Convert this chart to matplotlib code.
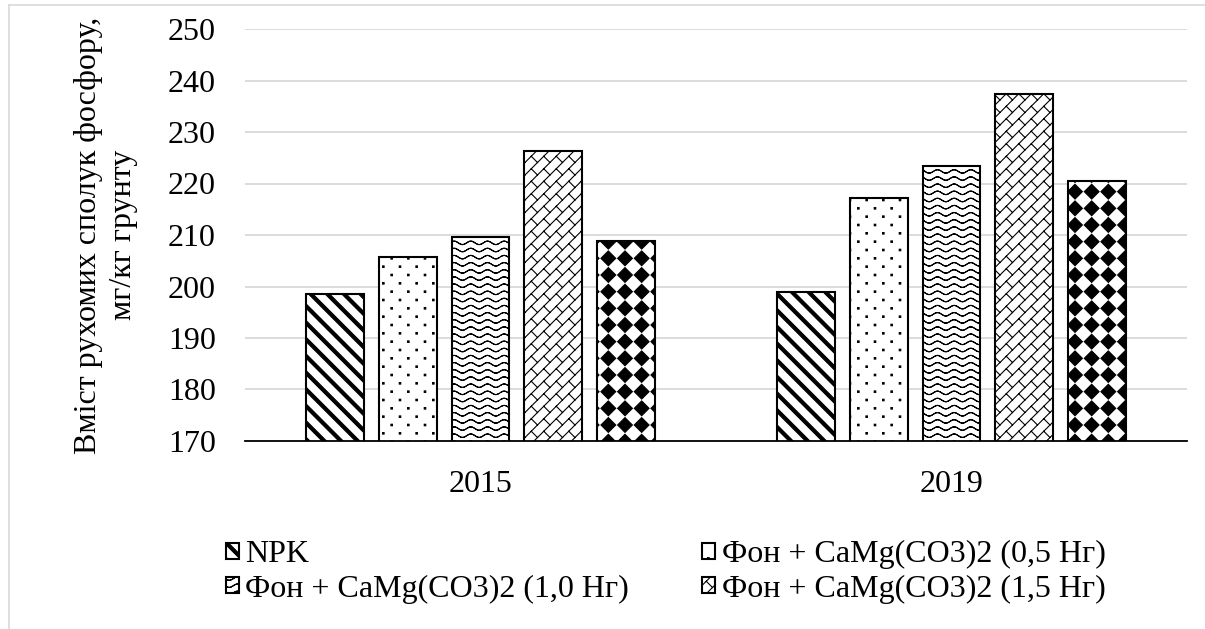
import numpy as np
import matplotlib
matplotlib.use('Agg')
import matplotlib.pyplot as plt
import matplotlib.hatch as mhatch
from matplotlib.path import Path
from matplotlib.lines import Line2D

# ---------------- data ----------------
years = ['2015', '2019']
series_names = ['NPK',
                'Фон + CaMg(CO3)2 (0,5 Нг)',
                'Фон + CaMg(CO3)2 (1,0 Нг)',
                'Фон + CaMg(CO3)2 (1,5 Нг)',
                'Фон + CaMg(CO3)2 (2,0 Нг)']
npk = [198.5, 198.9]
dolomite_05 = [205.8, 217.1]
dolomite_10 = [209.7, 223.4]
dolomite_15 = [226.4, 237.4]
dolomite_20 = [208.9, 220.5]
yticks = [170, 180, 190, 200, 210, 220, 230, 240, 250]
ylabel = 'Вміст рухомих сполук фосфору,\nмг/кг грунту'
legend_series = [0, 1, 2, 3]   # the reference legend lists four entries

# ---------------- custom hatch patterns ----------------
mhatch._validate_hatch_pattern = lambda h: None


def _segs(segs):
    v, c = [], []
    for (x0, y0), (x1, y1) in segs:
        v += [(x0, y0), (x1, y1)]
        c += [Path.MOVETO, Path.LINETO]
    return np.array(v, float), np.array(c, Path.code_type)


def _polys(polys):
    v, c = [], []
    for p in polys:
        v += list(p) + [p[0]]
        c += [Path.MOVETO] + [Path.LINETO] * (len(p) - 1) + [Path.CLOSEPOLY]
    return np.array(v, float), np.array(c, Path.code_type)


class _Custom(mhatch.HatchPatternBase):
    char = '\0'

    def __init__(self, hatch, density):
        if self.char in hatch:
            self._v, self._c = self.build()
            self.num_vertices = len(self._v)
        else:
            self.num_vertices = 0

    def set_vertices_and_codes(self, vertices, codes):
        vertices[:] = self._v
        codes[:] = self._c


class Stripes(_Custom):
    char = 'a'

    def build(self):
        w = 0.022
        polys = []
        for k in range(-1, 14):
            c = k / 6
            x0, x1 = -0.1, 1.1
            polys.append([(x0, -x0 + c - w), (x1, -x1 + c - w),
                          (x1, -x1 + c + w), (x0, -x0 + c + w)])
        return _polys(polys)


class Dots(_Custom):
    char = 'b'

    def build(self):
        s = 0.0075
        polys = []
        for j in range(-1, 14):
            y = j / 12
            for i in range(-1, 8):
                x = i / 6 + (j % 2) / 12
                polys.append([(x - s, y - s), (x + s, y - s), (x + s, y + s), (x - s, y + s)])
        return _polys(polys)


class Waves(_Custom):
    char = 'c'

    def build(self):
        A = 0.017
        xs = np.linspace(0, 1, 97)
        segs = []
        for j in range(-1, 16):
            y0 = j / 14
            ys = y0 + A * np.sin(2 * np.pi * 6 * xs)
            for i in range(len(xs) - 1):
                segs.append(((xs[i], ys[i]), (xs[i + 1], ys[i + 1])))
        return _segs(segs)


class Bricks(_Custom):
    char = 'd'

    def build(self):
        n = 8
        segs = []
        for k in range(-10, 11):
            c = k / n
            segs.append(((-0.3, -0.3 + c), (1.3, 1.3 + c)))
            for j in range(-4, 14):
                t = j / n
                p0 = (t, t + c)
                p1 = (t - 1 / (2 * n), t + c + 1 / (2 * n))
                if -0.3 <= p0[0] <= 1.3 and -0.3 <= p0[1] <= 1.3:
                    segs.append((p0, p1))
        return _segs(segs)


class Diamonds(_Custom):
    char = 'e'

    def build(self):
        r = 0.074
        polys = []
        for i in range(-1, 8):
            for j in range(-1, 8):
                cx, cy = i / 6 + 1 / 12, j / 6 + 1 / 12
                polys.append([(cx + r, cy), (cx, cy + r), (cx - r, cy), (cx, cy - r)])
        return _polys(polys)


mhatch._hatch_types.extend([Stripes, Dots, Waves, Bricks, Diamonds])

# ---------------- figure ----------------
plt.rcParams['font.family'] = ['Liberation Serif', 'DejaVu Serif']
plt.rcParams['hatch.linewidth'] = 0.8
plt.rcParams['hatch.color'] = 'black'
FS = 23

W, H = 1205, 629
fig = plt.figure(figsize=(W / 100, H / 100), dpi=100)
ax = fig.add_axes([245 / W, 1 - 441 / H, (1187 - 245) / W, (441 - 29) / H])

values = [npk, dolomite_05, dolomite_10, dolomite_15, dolomite_20]
hatches = ['a', 'b', 'c', 'd', 'e']
x = np.arange(len(years))
bw = 0.123
step = 0.154
handles = []
for i, (vals, h, name) in enumerate(zip(values, hatches, series_names)):
    bars = ax.bar(x + (i - 2) * step, vals, width=bw, bottom=0,
                  facecolor='white', edgecolor='black', linewidth=1.5,
                  hatch=h, label=name, zorder=3)
    handles.append(bars)

ax.set_ylim(170, 250)
ax.set_xlim(-0.5, 1.5)
ax.set_yticks(yticks)
ax.set_xticks(x)
ax.set_xticklabels(years)
ax.yaxis.grid(True, color='#d9d9d9', linewidth=1.3, zorder=0)
ax.set_axisbelow(True)
for s in ['top', 'right', 'left']:
    ax.spines[s].set_visible(False)
ax.spines['bottom'].set_linewidth(1.3)
ax.spines['bottom'].set_zorder(4)
ax.tick_params(axis='y', length=0, pad=21, labelsize=FS)
ax.tick_params(axis='x', length=0, pad=21, labelsize=FS)

ax.set_ylabel(ylabel, fontsize=FS, linespacing=1.3, ha='center', va='center',
              multialignment='center')
ax.yaxis.set_label_coords((106 - 245) / (1187 - 245), 0.5)

# legend: two columns, filled column-first
order = [legend_series[0], legend_series[2], legend_series[1], legend_series[3]]
fig.legend([handles[i] for i in order], [series_names[i] for i in order],
           ncol=2, loc='upper left', bbox_to_anchor=(226 / W, 1 - 540 / H),
           frameon=False, borderpad=0, borderaxespad=0,
           handlelength=0.4, handleheight=0.4, handletextpad=0.2,
           columnspacing=2.3, labelspacing=0.17, fontsize=FS)

# outer chart border (light grey)
fig.add_artist(Line2D([9 / W, 9 / W], [0, 1 - 5 / H], transform=fig.transFigure,
                      color='#d9d9d9', linewidth=1.2))
fig.add_artist(Line2D([9 / W, 1], [1 - 5 / H, 1 - 5 / H], transform=fig.transFigure,
                      color='#d9d9d9', linewidth=1.2))

fig.savefig('out.png', dpi=100)
